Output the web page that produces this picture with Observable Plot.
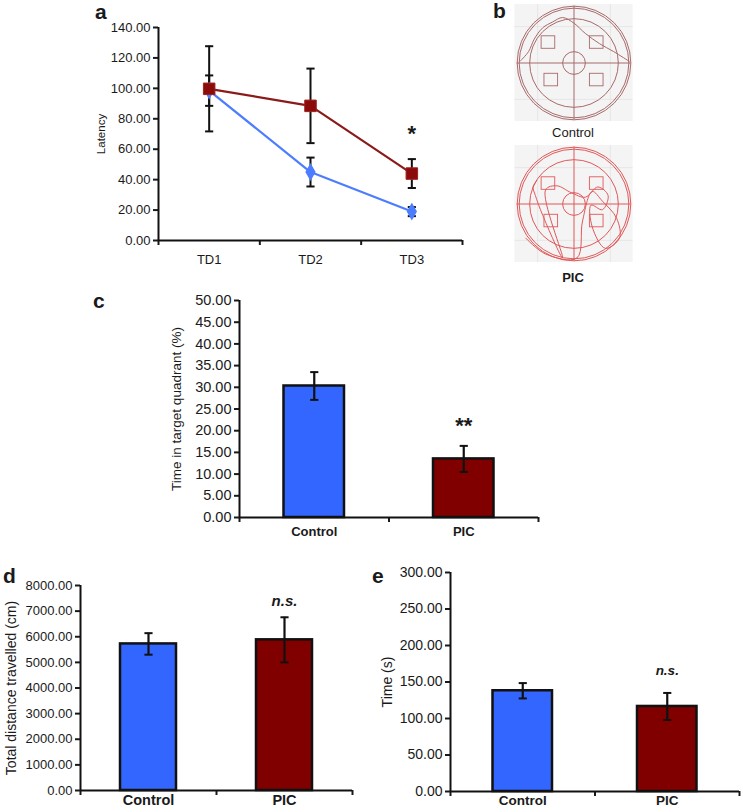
<!DOCTYPE html>
<html><head><meta charset="utf-8">
<script src="https://cdn.jsdelivr.net/npm/d3@7"></script>
<script src="https://cdn.jsdelivr.net/npm/@observablehq/plot@0.6"></script>
<style>
html,body{margin:0;padding:0;background:#fff;}
#root{position:relative;width:743px;height:812px;overflow:hidden;font-family:"Liberation Sans",Arial,sans-serif;color:#1a1a1a;}
.panel{position:absolute;}
.lab{position:absolute;font-weight:bold;font-size:21px;line-height:21px;}
.cap{position:absolute;font-size:13px;line-height:13px;transform:translateX(-50%);white-space:nowrap;}
</style></head><body><div id="root"></div>
<script>
// ---------- data ----------
const days = ["TD1", "TD2", "TD3"];
const latencyControl = [98.5, 45, 19];
const latencyControlErr = [10, 9.5, 3];
const latencyPIC = [99.7, 88.5, 44];
const latencyPICErr = [28, 24.5, 9.5];
const latencyTicks = [0, 20, 40, 60, 80, 100, 120, 140];

const groups = ["Control", "PIC"];
const quadrantTime = [30.3, 13.5];
const quadrantErr = [3.2, 3.0];
const quadrantTicks = [0, 5, 10, 15, 20, 25, 30, 35, 40, 45, 50];

const distance = [5720, 5880];
const distanceErr = [420, 880];
const distanceTicks = [0, 1000, 2000, 3000, 4000, 5000, 6000, 7000, 8000];

const swimTime = [138, 116.5];
const swimTimeErr = [10.5, 18.5];
const swimTicks = [0, 50, 100, 150, 200, 250, 300];

// maze schematic (normalized units, pool radius = 1)
const ringRadii = [1.0, 0.965, 0.78, 0.2];
const platformSquares = [[-0.45, 0.36], [0.4, 0.36], [-0.4, -0.3], [0.4, -0.3]];
const controlTrack = [[-0.95, 0.03], [-0.8, 0.2], [-0.7, 0.42], [-0.55, 0.62], [-0.38, 0.72], [-0.2, 0.8], [0.0, 0.7], [0.2, 0.52], [0.45, 0.34], [0.7, 0.2], [0.97, 0.03]];
const picTrack = [[-0.65, 0.42], [-0.72, 0.3], [-0.68, 0.15], [-0.55, -0.2], [-0.2, -0.95], [-0.5, 0.25], [-0.3, 0.32], [-0.05, 0.2], [0.2, 0.12], [0.42, 0.3], [0.6, 0.15], [0.5, -0.1], [0.3, -0.02], [0.32, -0.4], [0.55, -0.78], [0.8, -0.6], [0.75, -0.25], [0.5, 0.05], [0.32, 0.22], [0.15, -0.3], [0.05, -0.95], [-0.5, -0.88], [-0.85, -0.6]];

// ---------- styles ----------
const blue = "#3366ff", red = "#800000";
const lineBlue = "#4d7dff", lineRed = "#8b1a1a";
const font = "'Liberation Sans', Arial, sans-serif";
const root = document.getElementById("root");
const capSymbol = {draw(ctx, size) { const w = Math.sqrt(size); ctx.moveTo(-w, 0); ctx.lineTo(w, 0); }};

function place(node, left, top) {
  node.style.position = "absolute"; node.style.left = left + "px"; node.style.top = top + "px";
  root.appendChild(node);
}
function label(txt, left, top, cls = "lab", extra = "") {
  const d = document.createElement("div"); d.className = cls; d.textContent = txt;
  d.style.left = left + "px"; d.style.top = top + "px"; if (extra) d.style.cssText += extra;
  root.appendChild(d);
}
const styleFor = (fs) => ({fontFamily: font, fontSize: fs + "px", color: "#1a1a1a", background: "transparent", overflow: "visible"});

// ---------- panel a ----------
{
  const rows = [];
  days.forEach((d, i) => {
    rows.push({s: "Control", i, v: latencyControl[i], e: latencyControlErr[i]});
    rows.push({s: "PIC", i, v: latencyPIC[i], e: latencyPICErr[i]});
  });
  const ctrl = rows.filter(r => r.s === "Control"), pic = rows.filter(r => r.s === "PIC");
  const p = Plot.plot({
    width: 480, height: 275, marginLeft: 158, marginRight: 18, marginTop: 27, marginBottom: 35,
    style: styleFor(13),
    x: {domain: [0, days.length]},
    y: {domain: [0, 140]},
    marks: [
      Plot.axisY({ticks: latencyTicks, tickFormat: d3.format(".2f"), tickSize: 5, tickPadding: 3, strokeWidth: 2, label: null}),
      Plot.axisX({ticks: d3.range(days.length + 1), tickFormat: () => "", tickSize: 5, strokeWidth: 2, label: null}),
      Plot.axisX({ticks: days.map((d, i) => i + 0.5), tickFormat: (t) => days[Math.floor(t)], tickSize: 0, tickPadding: 14, label: null}),
      Plot.ruleX([0], {stroke: "#111", strokeWidth: 2}),
      Plot.ruleY([0], {stroke: "#111", strokeWidth: 2}),
      Plot.text(["Latency"], {frameAnchor: "left", textAnchor: "middle", rotate: -90, dx: -57, fontSize: 11.5}),
      // error bars
      Plot.ruleX(rows, {x: d => d.i + 0.5, y1: d => d.v - d.e, y2: d => d.v + d.e, stroke: "#111", strokeWidth: 2}),
      Plot.dot(rows, {x: d => d.i + 0.5, y: d => d.v + d.e, symbol: capSymbol, r: 2.3, stroke: "#111", fill: "none", strokeWidth: 2}),
      Plot.dot(rows, {x: d => d.i + 0.5, y: d => d.v - d.e, symbol: capSymbol, r: 2.3, stroke: "#111", fill: "none", strokeWidth: 2}),
      Plot.line(ctrl, {x: d => d.i + 0.5, y: "v", stroke: lineBlue, strokeWidth: 2.2}),
      Plot.line(pic, {x: d => d.i + 0.5, y: "v", stroke: lineRed, strokeWidth: 2.2}),
      Plot.dot(ctrl, {x: d => d.i + 0.5, y: "v", symbol: "diamond", r: 4.5, fill: lineBlue, stroke: lineBlue}),
      Plot.dot(pic, {x: d => d.i + 0.5, y: "v", symbol: "square", r: 6.5, fill: "#8b0a0a", stroke: "#a02020", strokeWidth: 1}),
      Plot.text(["*"], {x: () => 2.5, y: () => 70, fontSize: 22, fontWeight: "bold"})
    ]
  });
  place(p, 0, 0);
  label("a", 95, 1);
}

// ---------- panel b (maze schematics) ----------
function maze(track, color, left, top) {
  const p = Plot.plot({
    width: 125, height: 125, margin: 0, style: {background: "transparent", overflow: "visible"},
    x: {domain: [-1.1, 1.1], axis: null},
    y: {domain: [-1.1, 1.1], axis: null},
    r: {type: "linear", domain: [0, 1.1], range: [0, 62.5]},
    marks: [
      Plot.rect([0], {x1: () => -1.04, x2: () => 1.04, y1: () => -1.03, y2: () => 1.03, fill: "#f4f4f4"}),
      Plot.ruleX([-0.64, 0.64], {y1: () => -1.03, y2: () => 1.03, stroke: "#e2e2e2", strokeWidth: 0.8}),
      Plot.ruleY([-0.64, 0.64], {x1: () => -1.04, x2: () => 1.04, stroke: "#e2e2e2", strokeWidth: 0.8}),
      Plot.dot(ringRadii, {x: () => 0, y: () => 0, r: d => d, stroke: color, fill: "none", strokeWidth: 1}),
      Plot.ruleY([0], {x1: () => -1, x2: () => 1, stroke: color, strokeWidth: 1}),
      Plot.ruleX([0], {y1: () => -1, y2: () => 1, stroke: color, strokeWidth: 1}),
      Plot.rect(platformSquares, {x1: d => d[0] - 0.12, x2: d => d[0] + 0.12, y1: d => d[1] - 0.11, y2: d => d[1] + 0.11, stroke: color, fill: "none", strokeWidth: 0.9}),
      Plot.line(track, {x: d => d[0], y: d => d[1], curve: "catmull-rom", stroke: color, strokeWidth: 1})
    ]
  });
  place(p, left, top);
}
maze(controlTrack, "#a86a6a", 511, 0);
maze(picTrack, "#e0585a", 511, 141);
label("b", 493, 0);
label("Control", 573, 126, "cap");
label("PIC", 573, 271, "cap", "font-weight:bold;");

// ---------- bar panels ----------
function barPanel(o) {
  const rows = groups.map((g, i) => ({g, i, v: o.values[i], e: o.errs[i]}));
  const p = Plot.plot({
    width: o.width, height: o.height, marginLeft: o.mL, marginRight: o.mR, marginTop: o.mT, marginBottom: o.mB,
    style: styleFor(o.tickSize),
    x: {domain: [0, groups.length]},
    y: {domain: [0, o.ticks[o.ticks.length - 1]]},
    color: {type: "identity"},
    marks: [
      Plot.axisY({ticks: o.ticks, tickFormat: d3.format(".2f"), tickSize: 5, tickPadding: 3, strokeWidth: 2, label: null}),
      Plot.axisX({ticks: d3.range(groups.length + 1), tickFormat: () => "", tickSize: 5, strokeWidth: 2, label: null}),
      Plot.axisX({ticks: groups.map((g, i) => i + 0.5), tickFormat: t => groups[Math.floor(t)], tickSize: 0, tickPadding: o.xPad, fontWeight: "bold", fontSize: o.xSize, label: null}),
      Plot.text([o.ylabel], {frameAnchor: "left", textAnchor: "middle", rotate: -90, dx: -o.labelOffset, fontSize: o.labelSize}),
      Plot.rectY(rows, {x1: d => d.i, x2: d => d.i + 1, y: "v", insetLeft: o.inset, insetRight: o.inset, fill: d => [blue, red][d.i], stroke: "#111", strokeWidth: 2.5}),
      Plot.ruleX(rows, {x: d => d.i + 0.5, y1: d => d.v - d.e, y2: d => d.v + d.e, stroke: "#111", strokeWidth: 2.2}),
      Plot.dot(rows, {x: d => d.i + 0.5, y: d => d.v + d.e, symbol: capSymbol, r: 2.3, stroke: "#111", fill: "none", strokeWidth: 2}),
      Plot.dot(rows, {x: d => d.i + 0.5, y: d => d.v - d.e, symbol: capSymbol, r: 2.3, stroke: "#111", fill: "none", strokeWidth: 2}),
      Plot.ruleX([0], {stroke: "#111", strokeWidth: 2}),
      Plot.ruleY([0], {stroke: "#111", strokeWidth: 2}),
      Plot.text([o.sig], {x: () => 1.5, y: () => o.sigY, fontSize: o.sigSize, fontWeight: "bold", fontStyle: o.sigItalic ? "italic" : "normal"})
    ]
  });
  place(p, o.left, o.top);
}

// panel c
barPanel({left: 100, top: 290, width: 450, height: 260, mL: 139, mR: 12, mT: 10, mB: 33,
  values: quadrantTime, errs: quadrantErr, ticks: quadrantTicks, ylabel: "Time in target quadrant (%)",
  tickSize: 14.5, xSize: 13, labelOffset: 63, labelSize: 13.5, inset: 44.5, xPad: 9, sig: "**", sigY: 21.2, sigSize: 22, sigItalic: false});
label("c", 93, 290);

// panel d
barPanel({left: 0, top: 575, width: 370, height: 237, mL: 80, mR: 18, mT: 10, mB: 22,
  values: distance, errs: distanceErr, ticks: distanceTicks, ylabel: "Total distance travelled (cm)",
  tickSize: 13, xSize: 14.5, labelOffset: 69, labelSize: 14, inset: 40, xPad: 4, sig: "n.s.", sigY: 7400, sigSize: 15, sigItalic: true});
label("d", 3, 565);

// panel e
barPanel({left: 370, top: 562, width: 373, height: 250, mL: 80, mR: 4, mT: 10, mB: 21,
  values: swimTime, errs: swimTimeErr, ticks: swimTicks, ylabel: "Time (s)",
  tickSize: 14, xSize: 13.5, labelOffset: 63, labelSize: 14, inset: 42.5, xPad: 4, sig: "n.s.", sigY: 166, sigSize: 13.5, sigItalic: true});
label("e", 372, 565);
</script>
</body></html>
